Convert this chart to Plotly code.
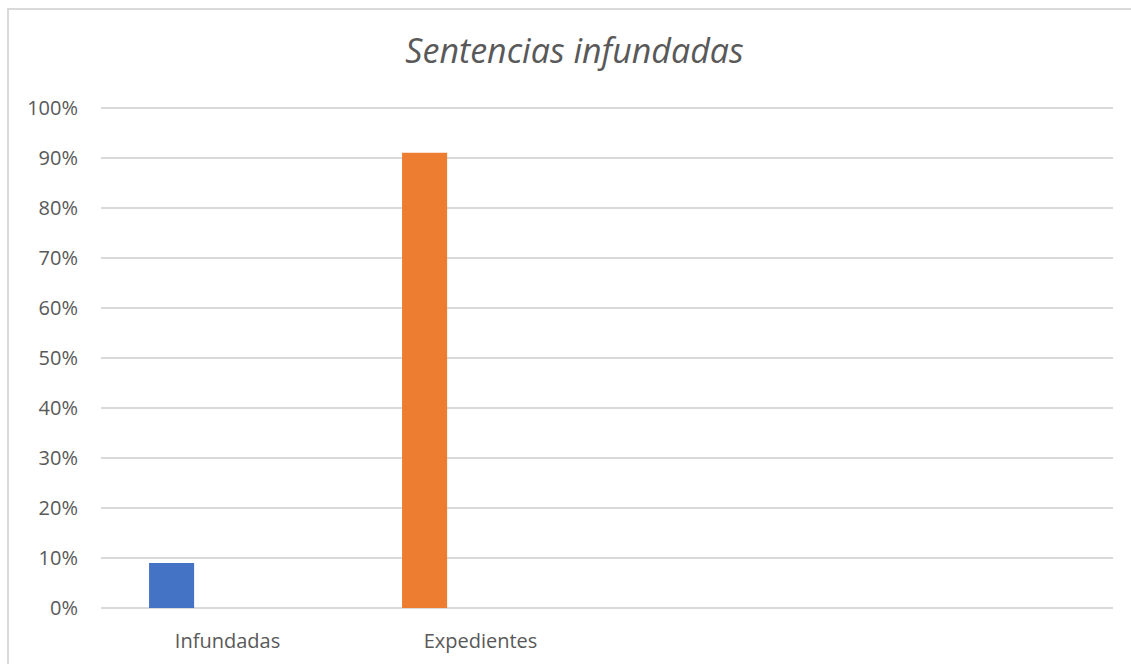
import plotly.graph_objects as go

categories = ["Infundadas", "Expedientes"]
series_a = [0.09, 0.91]
series_b = [None, None]
bar_colors = ["#4472C4", "#ED7D31"]
y_ticks = [0, 0.1, 0.2, 0.3, 0.4, 0.5, 0.6, 0.7, 0.8, 0.9, 1.0]
title_text = "Sentencias infundadas"

W, H = 1131, 664
L, R, T, B = 101, 18, 103, 56
pw, ph = W - L - R, H - T - B

fig = go.Figure()
fig.add_trace(go.Bar(x=categories, y=series_a, marker=dict(color=bar_colors, line=dict(width=0)),
                     showlegend=False, hoverinfo="y"))
fig.add_trace(go.Bar(x=categories, y=series_b, marker=dict(color="#A5A5A5"),
                     showlegend=False))

font_family = "Open Sans"
text_color = "#595959"

fig.update_layout(
    width=W, height=H,
    margin=dict(l=L, r=R, t=T, b=B, pad=0, autoexpand=False),
    paper_bgcolor="white", plot_bgcolor="white",
    barmode="group", bargap=0.116, bargroupgap=0.597,
    title=dict(text=title_text, x=0.508, xanchor="center", y=1 - 51 / H, yanchor="middle",
               yref="container", automargin=False,
               font=dict(family=font_family, size=34, color=text_color, style="italic")),
    xaxis=dict(type="category", range=[-0.5, 3.5], showgrid=False, showline=False,
               ticks="", ticklabelstandoff=19, automargin=False,
               tickfont=dict(family=font_family, size=20, color=text_color)),
    yaxis=dict(range=[0, 1.0096], tickvals=y_ticks, tickformat=".0%", showgrid=True,
               gridcolor="#D9D9D9", gridwidth=2, zeroline=True, zerolinecolor="#D9D9D9",
               zerolinewidth=2, showline=False, ticks="", ticklabelstandoff=22, automargin=False,
               tickfont=dict(family=font_family, size=20, color=text_color)),
    shapes=[dict(type="rect", xref="paper", yref="paper",
                 x0=(8 - L) / pw, x1=(W + 20 - L) / pw,
                 y0=-(B + 20) / ph, y1=(H - B - 9) / ph,
                 line=dict(color="#D9D9D9", width=2), fillcolor="rgba(0,0,0,0)", layer="below")],
)

fig.write_html("out.html", config={"displayModeBar": False},
               post_script="document.body.style.margin='0';document.body.style.overflow='hidden';")
